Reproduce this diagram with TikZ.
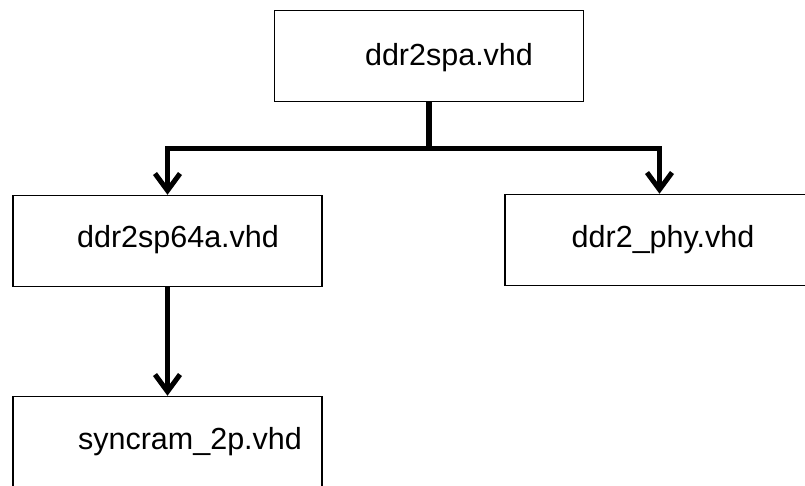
\documentclass[tikz,border=0pt]{standalone}
\usepackage{fontspec}
\setmainfont{Liberation Sans}
\usetikzlibrary{arrows.meta}
\tikzset{
  filebox/.style={draw=black,line width=1.5pt,minimum width=309pt,minimum height=91pt,inner sep=0pt},
  filename/.style={font=\fontsize{30.5}{36}\selectfont,inner sep=0pt},
  link/.style={line width=5.5pt,line join=miter},
  linkarrow/.style={link,-{Straight Barb[length=17pt,width=25pt,line width=5pt]}}
}

\begin{document}
\begin{tikzpicture}[x=1pt,y=-1pt]
\useasboundingbox (0,0) rectangle (805,485);
% files
\node[filebox,minimum width=309pt] (spa) at (429,56) {};
\node[filename] (spatxt) at (449,58) {ddr2spa.vhd};
\node[filebox] (sp64a) at (167.5,241) {};
\node[filename] (sp64atxt) at (178,240) {ddr2sp64a.vhd};
\node[filebox] (phy) at (659.5,240) {};
\node[filename] (phytxt) at (663,240) {ddr2\_phy.vhd};
\node[filebox] (sync) at (167.5,442) {};
\node[filename] (synctxt) at (190,442) {syncram\_2p.vhd};
% hierarchy
\draw[link] (spa.south) -- ++(0,46) coordinate (bus);
\draw[linkarrow] (bus) -| (sp64a.north);
\draw[linkarrow] (bus) -| (phy.north);
\draw[linkarrow] (sp64a.south) -- (sync.north);
\end{tikzpicture}
\end{document}
